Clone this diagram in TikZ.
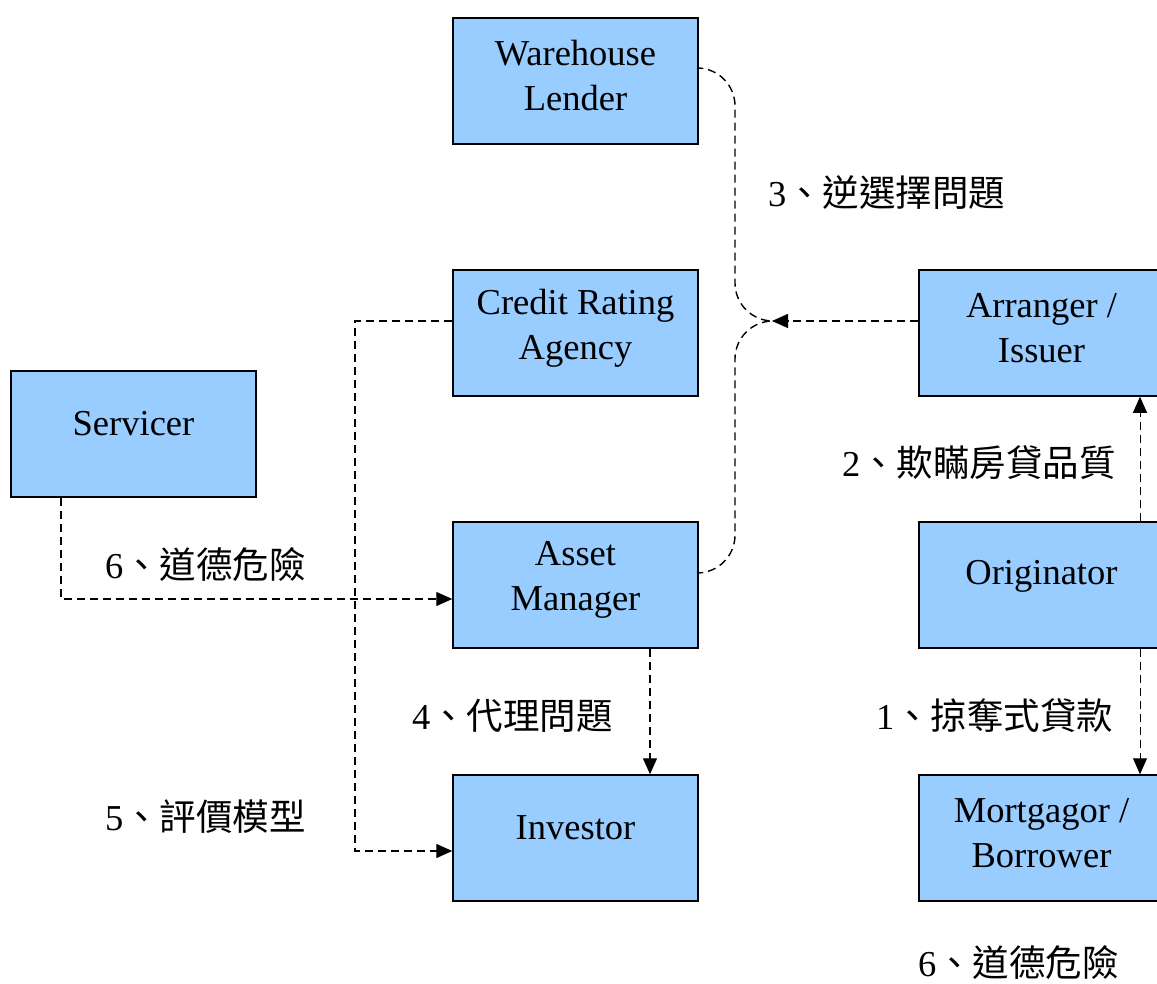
\documentclass[tikz,border=0pt]{standalone}
\usepackage{fontspec}
\setmainfont{Liberation Serif}
\newfontfamily\cjk{Noto Sans CJK TC}
\usetikzlibrary{arrows.meta}
\definecolor{boxblue}{HTML}{99CCFF}
\tikzset{
  party/.style={draw=black, line width=1.5pt, fill=boxblue, minimum width=245pt,
    minimum height=126pt, inner sep=0pt},
  ptext/.style={align=center, inner sep=0pt, font=\fontsize{36.5}{45}\selectfont},
  flow/.style={dashed, dash pattern=on 8pt off 5pt, line width=1.4pt},
  tip/.style={-{Triangle[length=16pt,width=14pt]}},
  issue/.style={anchor=west, inner sep=0pt, font=\fontsize{36.5}{45}\selectfont}
}
\newcommand{\lbl}[2]{{\rmfamily #1}{\cjk 、#2}}
\begin{document}
\begin{tikzpicture}[x=1pt, y=-1pt]
\useasboundingbox (0,0) rectangle (1157,984);
\clip (0,0) rectangle (1157,984);

% parties (boxes)
\node[party] (wl)   at (575.5,81)   {};
\node[party] (cra)  at (575.5,333)  {};
\node[party] (svc)  at (133.5,434)  {};
\node[party] (am)   at (575.5,585)  {};
\node[party] (inv)  at (575.5,838)  {};
\node[party] (ai)   at (1041.5,333) {};
\node[party] (orig) at (1041.5,585) {};
\node[party] (mb)   at (1041.5,838) {};

% party names
\node[ptext, yshift=5pt]  (wlt)   at (wl)   {Warehouse\\Lender};
\node[ptext, yshift=5pt]  (crat)  at (cra)  {Credit Rating\\Agency};
\node[ptext, yshift=10pt] (svct)  at (svc)  {Servicer};
\node[ptext, yshift=5pt]  (amt)   at (am)   {Asset\\Manager};
\node[ptext, yshift=10pt] (invt)  at (inv)  {Investor};
\node[ptext, yshift=5pt]  (ait)   at (ai)   {Arranger /\\Issuer};
\node[ptext, yshift=9pt]  (origt) at (orig) {Originator};
\node[ptext, yshift=5pt]  (mbt)   at (mb)   {Mortgagor /\\Borrower};

% helper points
\coordinate (junc) at (772,321);
\coordinate (col) at (355,600);

% adverse selection: lender and manager merge into the issuer flow
\draw[flow, rounded corners=38pt] ([yshift=13pt]wl.east) -- (735,68) -- (735,321) -- (junc);
\draw[flow, rounded corners=38pt] ([yshift=12pt]am.east) -- (735,573) -- (735,321) -- (junc);
\draw[flow, tip] ([yshift=12pt]ai.west) -- (junc);

% rating model
\draw[flow, tip] ([yshift=12pt]cra.west) -| (col) |- ([yshift=-13pt]inv.west);
% servicer moral hazard
\draw[flow, tip] ([xshift=-72.5pt]svc.south) |- ([yshift=-14pt]am.west);
% agency problem
\draw[flow, tip] ([xshift=74.5pt]am.south) -- ([xshift=74.5pt]inv.north);
% originator links
\draw[flow, line width=1pt, tip] ([xshift=98.5pt]orig.north) -- ([xshift=98.5pt]ai.south);
\draw[flow, line width=1pt, tip] ([xshift=98.5pt]orig.south) -- ([xshift=98.5pt]mb.north);

% issue labels
\node[issue] (l3)  at (768,193) {\lbl{3}{逆選擇問題}};
\node[issue] (l2)  at (842,463) {\lbl{2}{欺瞞房貸品質}};
\node[issue] (l1)  at (876,716) {\lbl{1}{掠奪式貸款}};
\node[issue] (l6b) at (918,963) {\lbl{6}{道德危險}};
\node[issue] (l6a) at (105,565) {\lbl{6}{道德危險}};
\node[issue] (l4)  at (412,716) {\lbl{4}{代理問題}};
\node[issue] (l5)  at (105,817) {\lbl{5}{評價模型}};
\end{tikzpicture}
\end{document}
